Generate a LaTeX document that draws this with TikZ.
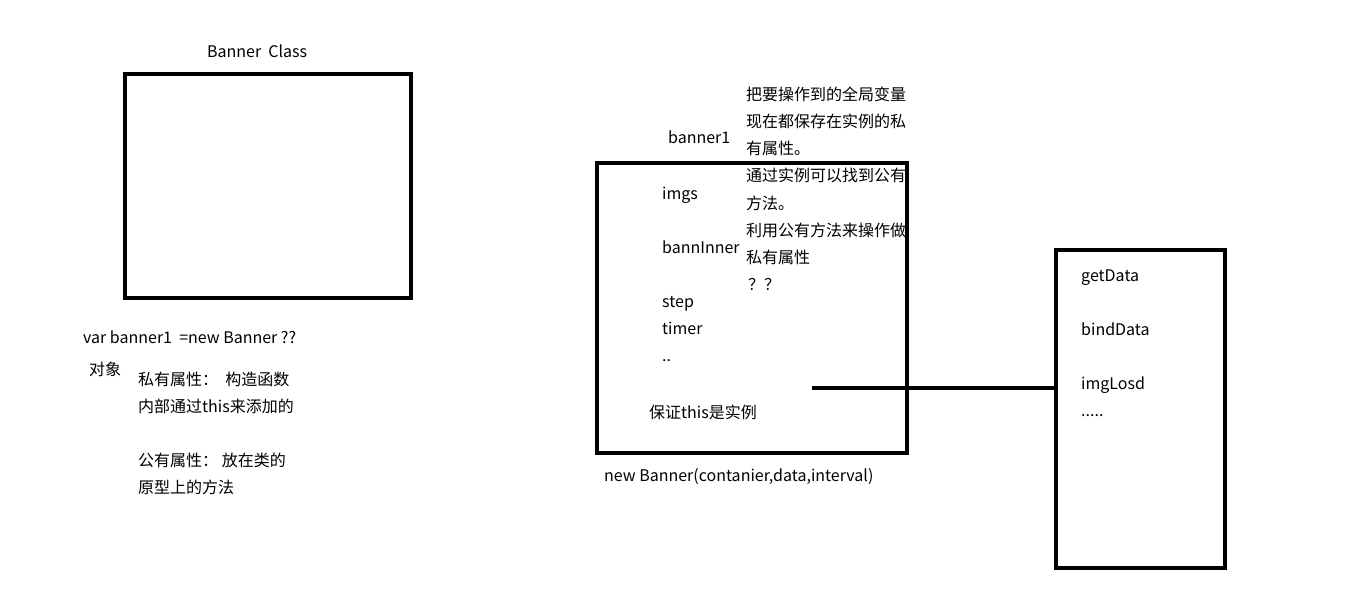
\documentclass[tikz,border=0pt]{standalone}
\usepackage{fontspec}
\setmainfont{Noto Sans CJK SC}
\usetikzlibrary{positioning}
\tikzset{
  box/.style={draw, line width=4pt, inner sep=0pt},
  txt/.style={anchor=west, inner sep=0pt, text height=12pt, text depth=0pt, font=\fontsize{16}{19}\selectfont},
}

\begin{document}
\begin{tikzpicture}[x=1pt,y=-1pt]
        \useasboundingbox (0,0) rectangle (1360,591);
        % class box
        \node[txt] (classlbl) at (207,52) {Banner\ \ Class};
        \node[box, minimum width=286pt, minimum height=224pt] (classbox) at (268,186) {};
        \node[txt] (newline) at (83,337) {var banner1\ \ =new Banner ??};
        \node[txt] (obj) at (89,369) {对象};
        \node[txt] (priv1) at (138,379) {私有属性：\ \ 构造函数};
        \node[txt] (priv2) at (138,406) {内部通过this来添加的};
        \node[txt] (pub1) at (138,460) {公有属性：\ 放在类的};
        \node[txt] (pub2) at (138,487) {原型上的方法};
        % instance box
        \node[box, minimum width=310pt, minimum height=290pt] (instbox) at (752,308) {};
        \node[txt] (instlbl) at (668,137) {banner1};
        \node[txt] (imgs) at (662,193) {imgs};
        \node[txt] (inner) at (662,247) {bannInner};
        \node[txt] (stepv) at (662,301) {step};
        \node[txt] (timer) at (662,328) {timer};
        \node[txt] (more) at (662,355) {..};
        \node[txt] (thisnote) at (649,412) {保证this是实例};
        \node[txt] (ctor) at (604,475) {new Banner(contanier,data,interval)};
        % notes
        \node[txt] (n1) at (746,95) {把要操作到的全局变量};
        \node[txt] (n2) at (746,122) {现在都保存在实例的私};
        \node[txt] (n3) at (746,149) {有属性。};
        \node[txt] (n4) at (746,176) {通过实例可以找到公有};
        \node[txt] (n5) at (746,203) {方法。};
        \node[txt] (n6) at (746,230) {利用公有方法来操作做};
        \node[txt] (n7) at (746,257) {私有属性};
        \node[txt] (n8) at (748,284) {？？};
        % prototype box
        \node[box, minimum width=169pt, minimum height=318pt] (protobox) at (1140.5,409) {};
        \node[txt] (getd) at (1081,275) {getData};
        \node[txt] (bindd) at (1081,329) {bindData};
        \node[txt] (imgl) at (1081,383) {imgLosd};
        \node[txt] (dots) at (1081,410) {.....};
        \coordinate (linkstart) at (812,388);
        \draw[line width=4pt] (linkstart) -- (linkstart -| protobox.west);
\end{tikzpicture}
\end{document}
